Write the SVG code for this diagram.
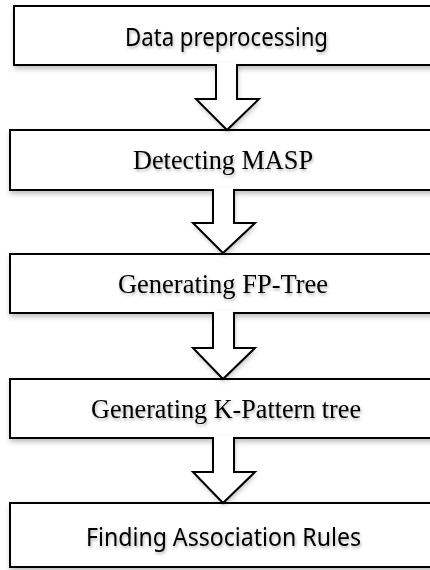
<svg xmlns="http://www.w3.org/2000/svg" width="430" height="570" viewBox="0 0 430 570">
<defs>
<filter id="sh" x="-10%" y="-20%" width="130%" height="160%">
<feDropShadow dx="1" dy="3" stdDeviation="2.5" flood-color="#000" flood-opacity="0.25"/>
</filter>
<filter id="tsh" x="-10%" y="-30%" width="120%" height="180%">
<feDropShadow dx="1" dy="2" stdDeviation="1.5" flood-color="#000" flood-opacity="0.3"/>
</filter>
</defs>
<style>
.box{fill:#fff;stroke:#000;stroke-width:2;filter:url(#sh)}
.arrfill{fill:#fff;stroke:none}
.arr{fill:none;stroke:#000;stroke-width:2;stroke-linejoin:miter}
.sans{font-family:"Noto Sans","Open Sans","Liberation Sans",sans-serif;font-size:25px;fill:#000;filter:url(#tsh)}
.serif{font-family:"Liberation Serif","Times New Roman",serif;font-size:27px;fill:#000;filter:url(#tsh)}
</style>
<g id="n1">
<rect class="box" x="14" y="6" width="430" height="59"/>
<text class="sans" x="226.5" y="46" text-anchor="middle" textLength="203" lengthAdjust="spacingAndGlyphs">Data preprocessing</text>
</g>
<g id="n2">
<rect class="box" x="10" y="130" width="434" height="60"/>
<text class="serif" x="223" y="169" text-anchor="middle" textLength="180" lengthAdjust="spacingAndGlyphs">Detecting MASP</text>
</g>
<g id="n3">
<rect class="box" x="10" y="254" width="434" height="59"/>
<text class="serif" x="223" y="293" text-anchor="middle" textLength="210" lengthAdjust="spacingAndGlyphs">Generating FP-Tree</text>
</g>
<g id="n4">
<rect class="box" x="10" y="379" width="434" height="59"/>
<text class="serif" x="226" y="418" text-anchor="middle" textLength="270" lengthAdjust="spacingAndGlyphs">Generating K-Pattern tree</text>
</g>
<g id="n5">
<rect class="box" x="10" y="503" width="434" height="64"/>
<text class="sans" x="223.5" y="546" text-anchor="middle" textLength="275" lengthAdjust="spacingAndGlyphs">Finding Association Rules</text>
</g>
<g id="connectors">
<g filter="url(#sh)">
<path class="arrfill" d="M216,63 V99 H196 L227,130 L259,99 H237 V63 Z"/>
<path class="arrfill" d="M213,188 V223 H193 L223,253 L255,223 H234 V188 Z"/>
<path class="arrfill" d="M213,311 V348 H193 L223,379 L255,348 H234 V311 Z"/>
<path class="arrfill" d="M213,436 V472 H193 L223,503 L255,472 H234 V436 Z"/>
</g>
<path class="arr" d="M216,64 V99 H196 L227,130 L259,99 H237 V64"/>
<path class="arr" d="M213,189 V223 H193 L223,253 L255,223 H234 V189"/>
<path class="arr" d="M213,312 V348 H193 L223,379 L255,348 H234 V312"/>
<path class="arr" d="M213,437 V472 H193 L223,503 L255,472 H234 V437"/>
</g>
</svg>
